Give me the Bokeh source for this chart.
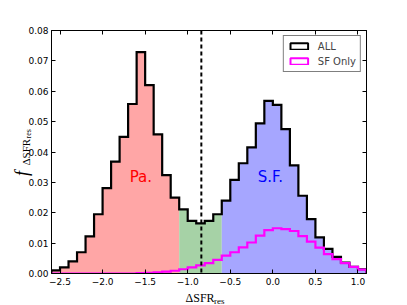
import numpy as np
from bokeh.plotting import figure
from bokeh.models import (Range1d, FixedTicker, Span, Label, Legend, LegendItem,
                          LinearAxis)
from bokeh.embed import file_html
from bokeh.resources import INLINE

# ---- data ----
bin_start = -2.6
bin_width = 0.1
all_values = [0.001, 0.002, 0.004, 0.007, 0.0122, 0.0195, 0.0281, 0.0368, 0.045, 0.0558,
              0.0729, 0.062, 0.0458, 0.0324, 0.025, 0.0211, 0.0173, 0.0165, 0.0173, 0.0195,
              0.024, 0.0308, 0.0363, 0.0415, 0.0494, 0.0568, 0.0555, 0.0475, 0.0356, 0.0256,
              0.0179, 0.0119, 0.0081, 0.0055, 0.0036, 0.0022, 0.0014]
sf_values = [0, 0, 0, 0, 0, 0, 0, 0, 0, 0,
             0.0001, 0.0002, 0.0004, 0.0006, 0.0009, 0.0014, 0.002, 0.0027, 0.0034, 0.0045,
             0.0059, 0.007, 0.0086, 0.0102, 0.0125, 0.0143, 0.0149, 0.0146, 0.014, 0.0123,
             0.0105, 0.0085, 0.0064, 0.0047, 0.0034, 0.0022, 0.0013]
pa_limit = -1.1
sf_limit = -0.6
divider = -0.84
x_ticks = [-2.5, -2.0, -1.5, -1.0, -0.5, 0.0, 0.5, 1.0]
x_tick_labels = ["\u22122.5", "\u22122.0", "\u22121.5", "\u22121.0", "\u22120.5", "0.0", "0.5", "1.0"]
y_ticks = [0.0, 0.01, 0.02, 0.03, 0.04, 0.05, 0.06, 0.07, 0.08]
y_tick_labels = ["0.00", "0.01", "0.02", "0.03", "0.04", "0.05", "0.06", "0.07", "0.08"]

n = len(all_values)
edges = np.round(bin_start + bin_width * np.arange(n + 1), 2)


def step_path(vals, e):
    xs, ys = [e[0]], [0.0]
    for i, v in enumerate(vals):
        xs += [e[i], e[i + 1]]
        ys += [v, v]
    xs.append(e[-1])
    ys.append(0.0)
    return xs, ys


def region_patch(vals, e, lo, hi):
    idx = [i for i in range(len(vals)) if e[i] >= lo - 1e-9 and e[i + 1] <= hi + 1e-9]
    sub = [vals[i] for i in idx]
    se = list(e[idx[0]:idx[-1] + 2])
    return step_path(sub, se)


p = figure(width=407, height=305, output_backend="svg", toolbar_location=None,
           x_range=Range1d(-2.6, 1.1), y_range=Range1d(0, 0.08),
           min_border_left=51, min_border_right=41, min_border_top=30, min_border_bottom=32)
p.background_fill_color = "white"
p.border_fill_color = "white"
p.outline_line_color = "black"
p.outline_line_width = 1
p.xgrid.visible = False
p.ygrid.visible = False

for ax in (p.xaxis[0], p.yaxis[0]):
    ax.major_tick_in = 4
    ax.major_tick_out = 0
    ax.minor_tick_in = 0
    ax.minor_tick_out = 0
    ax.axis_line_color = "black"
    ax.major_tick_line_color = "black"
    ax.major_label_text_font = "DejaVu Sans"
    ax.major_label_text_font_size = "9px"
    ax.major_label_text_color = "black"

p.xaxis.ticker = FixedTicker(ticks=x_ticks)
p.xaxis.major_label_overrides = {t: l for t, l in zip(x_ticks, x_tick_labels)}
p.xaxis.major_label_standoff = 4
p.yaxis.ticker = FixedTicker(ticks=y_ticks)
p.yaxis.major_label_overrides = {t: l for t, l in zip(y_ticks, y_tick_labels)}
p.yaxis.major_label_standoff = 3

# ticks on top / right
top = LinearAxis(ticker=FixedTicker(ticks=x_ticks), major_tick_in=4, major_tick_out=0,
                 minor_tick_in=0, minor_tick_out=0, axis_line_color="black",
                 major_label_standoff=0, major_label_text_font_size="1px",
                 major_label_overrides={t: "" for t in x_ticks})
right = LinearAxis(ticker=FixedTicker(ticks=y_ticks), major_tick_in=4, major_tick_out=0,
                   minor_tick_in=0, minor_tick_out=0, axis_line_color="black",
                   major_label_standoff=0, major_label_text_font_size="1px",
                   major_label_overrides={t: "" for t in y_ticks})
p.add_layout(top, "above")
p.add_layout(right, "right")

# filled regions
for lo, hi, col in [(bin_start, pa_limit, "#ffa6a6"), (pa_limit, sf_limit, "#a6d2a6"),
                    (sf_limit, float(edges[-1]), "#a6a6ff")]:
    xs, ys = region_patch(all_values, edges, lo, hi)
    p.patch(xs, ys, fill_color=col, line_color=None)

# ALL step outline
xa, ya = step_path(all_values, edges)
p.line(xa, ya, line_color="black", line_width=2.2, line_join="miter")

# SF only step
xs_, ys_ = step_path(sf_values, edges)
p.line(xs_, ys_, line_color="#ff00ff", line_width=2.2, line_join="miter")

# divider
p.add_layout(Span(location=divider, dimension="height", line_color="black",
                  line_width=2, line_dash="4 3"))

# region labels
p.add_layout(Label(x=-1.55, y=0.0317, text="Pa.", text_color="#ff0000",
                   text_font="DejaVu Sans", text_font_size="15px",
                   text_align="center", text_baseline="middle"))
p.add_layout(Label(x=-0.03, y=0.0317, text="S.F.", text_color="#0000ff",
                   text_font="DejaVu Sans", text_font_size="15px",
                   text_align="center", text_baseline="middle"))

# legend with dummy renderers (kept below the visible y range)
r_all = p.quad(left=[edges[0]], right=[edges[1]], top=[-1.0], bottom=[-1.0], fill_alpha=0,
               line_color="black", line_width=2)
r_sf = p.quad(left=[edges[0]], right=[edges[1]], top=[-1.0], bottom=[-1.0], fill_alpha=0,
              line_color="#ff00ff", line_width=2)
legend = Legend(items=[LegendItem(label="ALL", renderers=[r_all]),
                       LegendItem(label="SF Only", renderers=[r_sf])],
                location="top_right", margin=5, padding=4, spacing=3,
                glyph_width=22, glyph_height=8, label_height=12, label_standoff=8,
                label_text_font="DejaVu Sans", label_text_font_size="10px",
                border_line_color="black", border_line_width=1,
                background_fill_color="white", background_fill_alpha=1)
p.add_layout(legend)

# axis labels with subscripts; placed in side panels (not clipped to the frame)
serif = "Liberation Serif"
common = dict(text_font=serif, text_color="black", text_align="left",
              text_baseline="alphabetic")
p.add_layout(Label(x=-1.026, y=-0.00823, text="\u0394SFR", text_font_size="12px", **common),
             "below")
p.add_layout(Label(x=-0.691, y=-0.00905, text="res", text_font_size="9px", **common),
             "right")
p.add_layout(Label(x=-2.952, y=0.0321, text="f", text_font_style="italic",
                   text_font_size="18px", angle=np.pi / 2, **common), "above")
p.add_layout(Label(x=-2.8995, y=0.03556, text="\u0394SFR", text_font_size="11px",
                   angle=np.pi / 2, **common), "right")
p.add_layout(Label(x=-2.876, y=0.04444, text="res", text_font_size="8px",
                   angle=np.pi / 2, **common), "above")

open("out.html", "w").write(file_html(p, INLINE))
